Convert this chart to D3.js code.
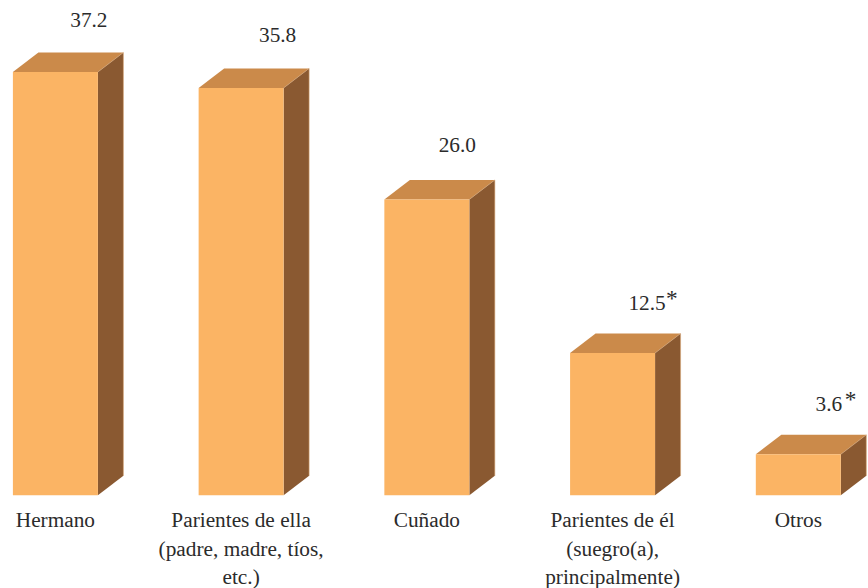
<!DOCTYPE html>
<html><head><meta charset="utf-8">
<script src="https://cdn.jsdelivr.net/npm/d3@7"></script>
<style>html,body{margin:0;padding:0;background:#fff}svg{display:block}text{font-family:"Liberation Serif",serif;fill:#2b2b2b}</style>
</head><body><svg id="c" width="868" height="588"></svg>
<script>
const categories = ["Hermano","Parientes de ella","Cuñado","Parientes de él","Otros"];
const categoryLines = [["Hermano"],["Parientes de ella","(padre, madre, tíos,","etc.)"],["Cuñado"],["Parientes de él","(suegro(a),","principalmente)"],["Otros"]];
const values = [37.2,35.8,26.0,12.5,3.6];
const valueMarks = ["","","","*","*"];
const labelShiftX = [76,79,73,77,73];
const labelShiftY = [-45,-46,-47.5,-43.5,-43.5];
const markShiftX = [0,0,0,19,16];

const svg = d3.select("#c");
const x = d3.scaleBand().domain(categories).range([12.9,840.8]).paddingInner(0.5424);
const y = d3.scaleLinear().domain([0,37.2]).range([495.3,72]);
const dx = 25.5, dy = -19.5;
const fontSize = 21.3;
const colors = {front:"#fbb464", top:"#cb8a4a", side:"#8a5931", edge:"#d9a877"};
const poly = pts => d3.line()(pts)+"Z";

const bars = svg.selectAll("g.bar").data(values).join("g").attr("class","bar");
bars.each(function(v,i){
  const g = d3.select(this), l = x(categories[i]), r = l+x.bandwidth(), t = y(v), b = y(0);
  g.append("path").attr("d",poly([[l,t],[l+dx,t+dy],[r+dx,t+dy],[r,t]])).attr("fill",colors.top);
  g.append("path").attr("d",poly([[r,t],[r+dx,t+dy],[r+dx,b+dy],[r,b]])).attr("fill",colors.side);
  g.append("path").attr("d",poly([[l,t],[r,t],[r,b],[l,b]])).attr("fill",colors.front);
  g.append("path").attr("d",d3.line()([[r,t],[r+dx,t+dy],[r+dx,b+dy]])).attr("fill","none").attr("stroke",colors.edge).attr("stroke-width",0.6);
});

values.forEach((v,i)=>{
  const cx = x(categories[i])+labelShiftX[i], by = y(v)+labelShiftY[i];
  svg.append("text").attr("x",cx).attr("y",by).attr("text-anchor","middle").attr("font-size",fontSize).text(v.toFixed(1));
  if(valueMarks[i]) svg.append("text").attr("x",cx+markShiftX[i]).attr("y",by-4).attr("font-size",fontSize+2).text(valueMarks[i]);
});

categoryLines.forEach((lines,i)=>{
  const cx = x(categories[i])+x.bandwidth()/2;
  lines.forEach((s,j)=>svg.append("text").attr("x",cx).attr("y",527+j*28.5).attr("text-anchor","middle").attr("font-size",fontSize).text(s));
});
</script></body></html>
